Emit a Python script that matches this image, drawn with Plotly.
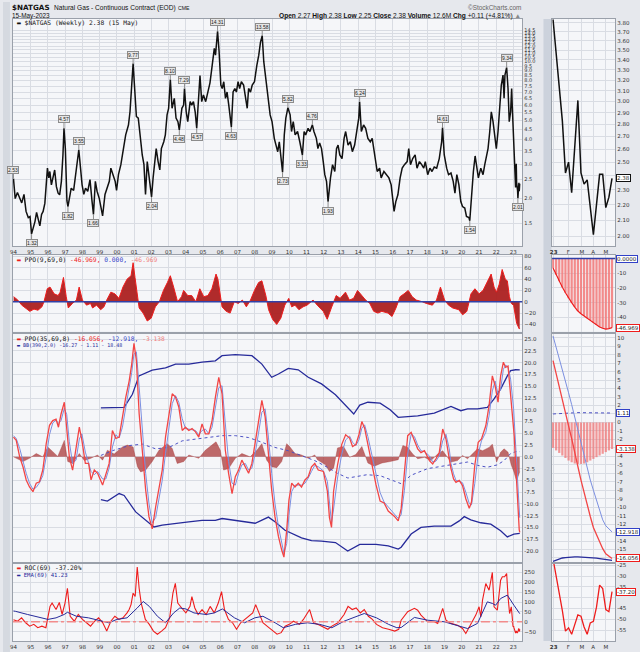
import math
import pandas as pd
import plotly.graph_objects as go

W, H = 640, 652

# ── $NATGAS weekly close, (decimal year, price) ──
PRICE = [
    (1994.00, 2.53), (1994.10, 2.00), (1994.23, 2.15), (1994.34, 2.05), (1994.48, 1.90), (1994.61, 2.10),
    (1994.73, 1.72), (1994.86, 1.60), (1994.96, 1.62), (1995.05, 1.32), (1995.15, 1.41), (1995.25, 1.53),
    (1995.34, 1.70), (1995.44, 1.53), (1995.53, 1.45), (1995.63, 1.66), (1995.72, 1.72), (1995.82, 1.89),
    (1995.92, 2.35), (1995.97, 2.86), (1996.05, 2.55), (1996.11, 2.75), (1996.20, 2.35), (1996.30, 2.55),
    (1996.39, 2.80), (1996.49, 2.30), (1996.59, 2.13), (1996.68, 2.09), (1996.78, 2.45), (1996.87, 3.34),
    (1996.93, 4.57), (1997.01, 3.60), (1997.10, 1.95), (1997.16, 1.82), (1997.26, 2.09), (1997.35, 2.26),
    (1997.49, 2.20), (1997.60, 2.65), (1997.74, 3.34), (1997.79, 3.55), (1997.89, 2.86), (1997.98, 2.35),
    (1998.08, 2.10), (1998.18, 2.26), (1998.31, 2.18), (1998.44, 2.50), (1998.56, 1.93), (1998.64, 1.66),
    (1998.75, 2.45), (1998.85, 2.18), (1998.98, 2.00), (1999.11, 1.70), (1999.17, 1.63), (1999.31, 2.10),
    (1999.46, 2.35), (1999.56, 2.45), (1999.65, 2.86), (1999.79, 2.65), (1999.90, 2.45), (1999.98, 2.20),
    (2000.09, 2.65), (2000.23, 2.98), (2000.36, 3.60), (2000.51, 4.23), (2000.67, 4.75), (2000.76, 5.55),
    (2000.86, 7.60), (2000.94, 9.77), (2001.03, 7.30), (2001.13, 5.25), (2001.24, 5.15), (2001.34, 4.23),
    (2001.47, 3.34), (2001.57, 2.98), (2001.66, 2.10), (2001.76, 3.09), (2001.85, 2.65), (2001.95, 2.26),
    (2002.01, 2.04), (2002.10, 2.55), (2002.20, 3.09), (2002.28, 3.60), (2002.39, 3.09), (2002.49, 2.80),
    (2002.58, 3.60), (2002.72, 3.90), (2002.81, 4.23), (2002.91, 5.35), (2003.00, 5.78), (2003.10, 8.10),
    (2003.20, 5.78), (2003.33, 6.50), (2003.43, 5.15), (2003.54, 4.94), (2003.62, 4.48), (2003.77, 5.78),
    (2003.87, 6.00), (2003.92, 7.29), (2004.02, 5.55), (2004.11, 4.94), (2004.25, 6.25), (2004.34, 6.00),
    (2004.44, 6.25), (2004.54, 5.55), (2004.63, 4.57), (2004.73, 6.76), (2004.82, 8.50), (2004.92, 6.25),
    (2005.02, 6.76), (2005.15, 6.25), (2005.26, 7.00), (2005.40, 7.80), (2005.53, 9.60), (2005.65, 11.70),
    (2005.72, 10.80), (2005.84, 14.31), (2005.93, 11.20), (2006.03, 7.60), (2006.11, 7.30), (2006.20, 7.90),
    (2006.30, 6.50), (2006.39, 7.00), (2006.49, 6.00), (2006.64, 4.63), (2006.74, 7.00), (2006.84, 7.30),
    (2006.93, 7.00), (2007.03, 7.90), (2007.12, 7.30), (2007.22, 7.90), (2007.35, 7.60), (2007.47, 6.50),
    (2007.56, 5.78), (2007.64, 7.30), (2007.75, 7.00), (2007.85, 7.60), (2007.98, 7.90), (2008.12, 9.60),
    (2008.23, 10.80), (2008.33, 12.60), (2008.43, 13.58), (2008.52, 10.00), (2008.66, 7.90), (2008.75, 6.50),
    (2008.89, 5.35), (2009.00, 4.94), (2009.13, 4.06), (2009.23, 3.75), (2009.33, 3.47), (2009.42, 3.90),
    (2009.52, 3.34), (2009.61, 2.73), (2009.71, 4.23), (2009.80, 5.15), (2009.92, 5.82), (2010.05, 5.35),
    (2010.13, 4.40), (2010.23, 4.94), (2010.34, 4.23), (2010.48, 4.40), (2010.61, 3.90), (2010.76, 3.33),
    (2010.86, 4.40), (2010.95, 4.23), (2011.09, 4.57), (2011.20, 4.40), (2011.34, 4.76), (2011.43, 4.40),
    (2011.57, 4.06), (2011.66, 3.60), (2011.76, 3.85), (2011.87, 3.60), (2011.97, 3.09), (2012.06, 2.65),
    (2012.16, 2.45), (2012.25, 1.93), (2012.39, 2.55), (2012.51, 2.98), (2012.64, 2.75), (2012.74, 3.60),
    (2012.83, 3.75), (2012.93, 3.34), (2013.06, 3.20), (2013.18, 4.06), (2013.27, 4.40), (2013.41, 3.75),
    (2013.54, 3.90), (2013.66, 3.47), (2013.79, 3.75), (2013.93, 4.40), (2014.03, 5.15), (2014.08, 6.24),
    (2014.18, 4.40), (2014.31, 4.75), (2014.43, 4.57), (2014.56, 4.06), (2014.70, 3.90), (2014.81, 4.06),
    (2014.91, 3.47), (2015.01, 2.98), (2015.10, 2.75), (2015.24, 2.86), (2015.33, 2.55), (2015.49, 2.75),
    (2015.62, 2.65), (2015.78, 2.55), (2015.91, 2.35), (2016.01, 2.00), (2016.08, 1.72), (2016.18, 1.93),
    (2016.30, 2.09), (2016.43, 2.55), (2016.55, 2.86), (2016.68, 2.98), (2016.84, 3.09), (2016.93, 3.60),
    (2017.03, 2.98), (2017.16, 3.20), (2017.30, 3.34), (2017.41, 2.86), (2017.55, 3.09), (2017.68, 2.98),
    (2017.80, 2.86), (2017.89, 3.09), (2018.03, 2.65), (2018.16, 2.86), (2018.28, 2.75), (2018.41, 2.90),
    (2018.55, 2.86), (2018.70, 3.20), (2018.84, 3.90), (2018.89, 4.61), (2018.99, 3.34), (2019.13, 2.86),
    (2019.24, 2.65), (2019.38, 2.70), (2019.51, 2.45), (2019.61, 2.13), (2019.72, 2.65), (2019.84, 2.35),
    (2019.95, 1.93), (2020.05, 1.82), (2020.18, 1.79), (2020.28, 1.62), (2020.42, 1.60), (2020.47, 1.54),
    (2020.59, 2.26), (2020.68, 2.75), (2020.78, 3.30), (2020.88, 2.86), (2020.97, 2.55), (2021.11, 2.86),
    (2021.24, 2.65), (2021.34, 2.98), (2021.44, 3.34), (2021.53, 3.60), (2021.63, 4.40), (2021.72, 5.55),
    (2021.82, 4.94), (2021.92, 4.06), (2022.01, 3.60), (2022.11, 4.40), (2022.22, 6.00), (2022.30, 7.60),
    (2022.40, 8.54), (2022.46, 6.50), (2022.51, 8.54), (2022.61, 9.34), (2022.69, 7.30), (2022.76, 4.94),
    (2022.84, 5.55), (2022.90, 7.30), (2022.94, 5.78), (2022.98, 4.50),
]

# 2023 weekly bars (zoomed side panel)
WEEKS = ["2023-01-06", "2023-01-13", "2023-01-20", "2023-01-27", "2023-02-03", "2023-02-10", "2023-02-17",
         "2023-02-24", "2023-03-03", "2023-03-10", "2023-03-17", "2023-03-24", "2023-03-31", "2023-04-07",
         "2023-04-14", "2023-04-21", "2023-04-28", "2023-05-05", "2023-05-12", "2023-05-15"]
WK_PRICE = [3.84, 3.47, 3.15, 2.83, 2.42, 2.50, 2.28, 2.62, 3.01, 2.42,
            2.34, 2.37, 2.20, 2.01, 2.20, 2.41, 2.41, 2.18, 2.25, 2.38]

# swing labels on the price line: (year, value, +1 above / -1 below)
PEAKS = [
    (1994.00, 2.53, 1), (1995.05, 1.32, -1), (1996.93, 4.57, 1), (1997.16, 1.82, -1), (1997.79, 3.55, 1),
    (1998.64, 1.66, -1), (2000.94, 9.77, 1), (2002.01, 2.04, -1), (2003.10, 8.10, 1), (2003.62, 4.48, -1),
    (2003.92, 7.29, 1), (2004.63, 4.57, -1), (2005.84, 14.31, 1), (2006.64, 4.63, -1), (2008.43, 13.58, 1),
    (2009.61, 2.73, -1), (2009.92, 5.82, 1), (2010.76, 3.33, -1), (2011.34, 4.76, 1), (2012.25, 1.93, -1),
    (2014.08, 6.24, 1), (2018.89, 4.61, 1), (2020.47, 1.54, -1), (2022.61, 9.34, 1), (2023.26, 2.01, -1),
]

# PPO(9,69,0)
PPO9 = [
    (1994.01, 9), (1994.25, 3), (1994.48, -6), (1994.72, -11), (1994.95, -17), (1995.19, -13), (1995.42, -15),
    (1995.65, -9), (1995.77, 0), (1995.96, 23), (1996.12, 26), (1996.36, 14), (1996.59, 11), (1996.71, 17),
    (1996.90, 43), (1997.06, 9), (1997.18, -11), (1997.42, -3), (1997.65, 3), (1997.81, 26), (1998.00, 3),
    (1998.24, -6), (1998.47, -3), (1998.59, -11), (1998.82, -6), (1999.06, -14), (1999.25, -9), (1999.41, 3),
    (1999.65, 17), (1999.88, 14), (2000.12, 6), (2000.35, 26), (2000.59, 40), (2000.82, 46), (2000.94, 69),
    (2001.05, 43), (2001.29, -11), (2001.52, -20), (2001.76, -34), (2001.99, -29), (2002.23, -9), (2002.46, 0),
    (2002.70, 20), (2002.93, 34), (2003.10, 46), (2003.29, 26), (2003.52, 0), (2003.75, 9), (2003.87, 20),
    (2004.11, 11), (2004.34, 11), (2004.58, 0), (2004.81, 23), (2005.04, 9), (2005.28, 11), (2005.51, 23),
    (2005.75, 49), (2005.86, 40), (2006.10, -9), (2006.34, -17), (2006.57, -20), (2006.81, 0), (2007.04, -3),
    (2007.28, 3), (2007.51, -9), (2007.75, 3), (2007.98, 20), (2008.22, 34), (2008.41, 37), (2008.64, 11),
    (2008.80, -14), (2009.03, -31), (2009.27, -40), (2009.51, -29), (2009.74, -6), (2009.97, 6), (2010.14, -9),
    (2010.33, -6), (2010.56, -14), (2010.80, -9), (2011.03, -6), (2011.38, 3), (2011.62, -6), (2011.97, -17),
    (2012.20, -31), (2012.44, -11), (2012.72, 11), (2012.95, 6), (2013.26, 17), (2013.49, 3), (2013.73, 6),
    (2013.96, 20), (2014.20, 11), (2014.43, 3), (2014.67, -3), (2014.90, -17), (2015.14, -20), (2015.37, -17),
    (2015.72, -20), (2015.96, -26), (2016.19, -11), (2016.43, 9), (2016.66, 14), (2016.90, 20), (2017.13, 9),
    (2017.37, 3), (2017.72, 0), (2017.95, -3), (2018.30, -6), (2018.54, 3), (2018.77, 26), (2019.01, 3),
    (2019.24, -6), (2019.48, -11), (2019.83, -14), (2020.06, -23), (2020.30, -17), (2020.54, 14), (2020.77, 23),
    (2021.01, 14), (2021.24, 20), (2021.48, 34), (2021.71, 49), (2021.88, 26), (2022.02, 17), (2022.18, 31),
    (2022.35, 57), (2022.53, 40), (2022.65, 37), (2022.77, 9), (2022.88, -3),
]
WK_PPO9 = [-6.4, -11, -15.5, -19.5, -23.3, -27, -30, -33, -35.7, -37.5,
           -39, -40.5, -41.7, -43.5, -45.1, -46.5, -47.4, -48, -47.6, -46.969]

# PPO(35,69,8): line, signal, histogram
PPO35 = [
    (1994.00, 4.2), (1994.16, 3.5), (1994.36, 0), (1994.55, -2.1), (1994.74, -4.9), (1994.93, -6.4),
    (1995.13, -7.4), (1995.32, -5.6), (1995.51, -5.3), (1995.70, -2.8), (1995.90, 2.8), (1996.09, 6.7),
    (1996.28, 7.7), (1996.47, 8.0), (1996.61, 6.3), (1996.76, 9.1), (1996.95, 11.6), (1997.09, 6.3),
    (1997.24, 0), (1997.43, -2.8), (1997.63, 1.4), (1997.82, 6.3), (1997.97, 3.5), (1998.17, -1.4),
    (1998.36, -1.4), (1998.50, -4.9), (1998.69, -2.8), (1998.88, -3.5), (1999.17, -6.0), (1999.36, -3.5),
    (1999.55, -1.4), (1999.74, 5.6), (1999.94, 3.9), (2000.13, 4.2), (2000.32, 8.5), (2000.51, 12.6),
    (2000.71, 16.1), (2000.86, 19.7), (2000.99, 24.1), (2001.13, 20.5), (2001.29, 9.2), (2001.48, 0),
    (2001.67, -7.1), (2001.86, -12.7), (2002.05, -15.3), (2002.25, -10.6), (2002.44, -7.1), (2002.63, -2.8),
    (2002.82, 4.2), (2003.02, 9.2), (2003.21, 13.4), (2003.40, 12.7), (2003.59, 10.6), (2003.79, 5.6),
    (2003.98, 6.3), (2004.17, 5.6), (2004.36, 6.0), (2004.56, 5.3), (2004.75, 4.2), (2004.94, 7.0),
    (2005.13, 4.9), (2005.33, 4.9), (2005.52, 7.7), (2005.71, 12.6), (2005.91, 16.9), (2006.10, 13.4),
    (2006.29, 1.4), (2006.48, -3.5), (2006.68, -7.8), (2006.87, -4.2), (2007.06, -2.8), (2007.25, -0.7),
    (2007.45, -2.1), (2007.64, -3.5), (2007.83, -1.4), (2008.02, 2.8), (2008.21, 7.0), (2008.41, 12.0),
    (2008.60, 8.5), (2008.79, 0), (2008.98, -7.1), (2009.17, -12.7), (2009.37, -16.9), (2009.56, -19.8),
    (2009.69, -21.3), (2009.85, -15.6), (2009.98, -9.2), (2010.14, -5.6), (2010.33, -6.4), (2010.52, -5.6),
    (2010.71, -6.4), (2010.91, -4.9), (2011.10, -4.2), (2011.29, -2.1), (2011.48, -1.4), (2011.68, -2.8),
    (2011.98, -3.1), (2012.21, -7.3), (2012.33, -12.9), (2012.45, -15.0), (2012.57, -7.3), (2012.80, -1.7),
    (2013.04, 2.6), (2013.27, 4.7), (2013.50, 4.0), (2013.67, 2.2), (2013.86, 2.6), (2014.04, 4.7),
    (2014.21, 7.5), (2014.37, 6.1), (2014.56, 2.6), (2014.80, -1.7), (2015.03, -5.9), (2015.27, -9.4),
    (2015.50, -9.8), (2015.74, -11.5), (2016.09, -12.6), (2016.32, -13.6), (2016.49, -11.0), (2016.68, -3.3),
    (2016.87, 4.5), (2017.07, 5.2), (2017.26, 3.4), (2017.45, 1.7), (2017.64, 0.9), (2017.84, 1.3),
    (2018.13, -0.8), (2018.32, -1.5), (2018.51, -0.4), (2018.70, 0.9), (2018.90, 5.9), (2019.09, 3.8),
    (2019.28, -0.4), (2019.38, -2.5), (2019.53, -4.7), (2019.67, -5.4), (2019.86, -5.0), (2020.05, -6.1),
    (2020.24, -8.9), (2020.44, -10.9), (2020.57, -9.6), (2020.76, -1.8), (2020.96, 3.1), (2021.15, 3.8),
    (2021.40, 6.6), (2021.59, 10.9), (2021.78, 17.2), (2021.94, 15.1), (2022.11, 11.6), (2022.26, 17.2),
    (2022.42, 20.1), (2022.55, 19.0), (2022.69, 19.3), (2022.84, 13.7),
]
PPO35_SIG = [
    (1994.00, 4.5), (1994.16, 3.9), (1994.36, 1.8), (1994.55, -1.0), (1994.74, -3.5), (1994.93, -5.6),
    (1995.13, -6.9), (1995.32, -6.5), (1995.51, -5.5), (1995.70, -4.0), (1995.90, 0.0), (1996.09, 4.7),
    (1996.28, 7.2), (1996.47, 7.8), (1996.61, 7.1), (1996.76, 7.7), (1996.95, 10.3), (1997.09, 9.0),
    (1997.24, 3.2), (1997.43, -1.4), (1997.63, -0.7), (1997.82, 3.8), (1997.97, 4.9), (1998.17, 1.0),
    (1998.36, -1.4), (1998.50, -3.1), (1998.69, -3.8), (1998.88, -3.1), (1999.17, -4.7), (1999.36, -4.7),
    (1999.55, -2.4), (1999.74, 2.1), (1999.94, 4.7), (2000.13, 4.0), (2000.32, 6.3), (2000.51, 10.5),
    (2000.71, 14.3), (2000.86, 17.9), (2000.99, 21.8), (2001.13, 22.3), (2001.29, 14.9), (2001.48, 4.6),
    (2001.67, -3.5), (2001.86, -9.9), (2002.05, -14.0), (2002.25, -12.9), (2002.44, -8.8), (2002.63, -5.0),
    (2002.82, 0.7), (2003.02, 6.7), (2003.21, 11.3), (2003.40, 13.0), (2003.59, 11.6), (2003.79, 8.1),
    (2003.98, 6.0), (2004.17, 5.9), (2004.36, 5.8), (2004.56, 5.6), (2004.75, 4.7), (2004.94, 5.6),
    (2005.13, 5.9), (2005.33, 4.9), (2005.52, 6.3), (2005.71, 10.1), (2005.91, 14.7), (2006.10, 15.1),
    (2006.29, 7.4), (2006.48, -1.0), (2006.68, -5.6), (2006.87, -6.0), (2007.06, -3.5), (2007.25, -1.7),
    (2007.45, -1.4), (2007.64, -2.8), (2007.83, -2.4), (2008.02, 0.7), (2008.21, 4.9), (2008.41, 9.5),
    (2008.60, 10.2), (2008.79, 4.2), (2008.98, -3.5), (2009.17, -9.9), (2009.37, -14.8), (2009.56, -18.3),
    (2009.69, -20.5), (2009.85, -18.4), (2009.98, -12.4), (2010.14, -7.4), (2010.33, -6.0), (2010.52, -6.0),
    (2010.71, -6.0), (2010.91, -5.6), (2011.10, -4.5), (2011.29, -3.1), (2011.48, -1.8), (2011.68, -2.1),
    (2011.98, -3.0), (2012.21, -5.2), (2012.33, -10.1), (2012.45, -14.0), (2012.57, -11.1), (2012.80, -4.5),
    (2013.04, 0.5), (2013.27, 3.6), (2013.50, 4.4), (2013.67, 3.1), (2013.86, 2.4), (2014.04, 3.6),
    (2014.21, 6.1), (2014.37, 6.8), (2014.56, 4.3), (2014.80, 0.4), (2015.03, -3.8), (2015.27, -7.6),
    (2015.50, -9.6), (2015.74, -10.6), (2016.09, -12.0), (2016.32, -13.1), (2016.49, -12.3), (2016.68, -7.1),
    (2016.87, 0.6), (2017.07, 4.8), (2017.26, 4.3), (2017.45, 2.5), (2017.64, 1.3), (2017.84, 1.1),
    (2018.13, 0.2), (2018.32, -1.1), (2018.51, -0.9), (2018.70, 0.2), (2018.90, 3.4), (2019.09, 4.8),
    (2019.28, 1.7), (2019.38, -1.4), (2019.53, -3.6), (2019.67, -5.0), (2019.86, -5.2), (2020.05, -5.5),
    (2020.24, -7.5), (2020.44, -9.9), (2020.57, -10.2), (2020.76, -5.7), (2020.96, 0.6), (2021.15, 3.4),
    (2021.40, 5.2), (2021.59, 8.7), (2021.78, 14.0), (2021.94, 16.1), (2022.11, 13.3), (2022.26, 14.4),
    (2022.42, 18.6), (2022.55, 19.5), (2022.69, 19.1), (2022.84, 16.5),
]
PPO35_HIST = [
    (1994.00, 0), (1994.16, -0.3), (1994.55, -1.0), (1994.93, -0.3), (1995.32, 0.7), (1995.70, 0),
    (1995.99, 2.1), (1996.28, 1.1), (1996.57, 0.1), (1996.95, 3.5), (1997.15, -1.0), (1997.43, -1.4),
    (1997.82, 0.7), (1998.11, -0.8), (1998.49, -0.3), (1998.88, 0.4), (1999.17, -0.7), (1999.45, 1.4),
    (1999.84, 0.6), (2000.32, 2.1), (2000.61, 2.5), (2000.94, 2.1), (2001.19, -2.1), (2001.38, -3.2),
    (2001.67, -2.8), (2002.05, -1.0), (2002.44, 1.4), (2002.92, 2.8), (2003.21, 1.8), (2003.50, -1.4),
    (2003.88, -1.0), (2004.17, 0.4), (2004.75, -0.3), (2005.13, 1.4), (2005.75, 3.2), (2006.00, 1.4),
    (2006.19, -2.8), (2006.48, -2.5), (2006.87, -0.3), (2007.25, 0.7), (2007.73, 0), (2008.12, 1.4),
    (2008.41, 2.8), (2008.69, -0.7), (2008.98, -2.1), (2009.27, -2.3), (2009.56, -1.0), (2009.85, 2.8),
    (2010.04, 2.1), (2010.33, 0.7), (2010.71, 0.4), (2011.10, -0.3), (2011.48, 0.4), (2011.63, -0.6),
    (2012.10, -1.7), (2012.33, -3.1), (2012.57, -2.4), (2012.80, 1.9), (2013.15, 2.2), (2013.50, -0.1),
    (2013.86, 0.5), (2014.21, 2.2), (2014.56, -1.3), (2014.92, -2.0), (2015.38, -1.3), (2015.85, -1.0),
    (2016.32, -0.6), (2016.59, 2.4), (2016.87, 2.0), (2017.16, 0.6), (2017.45, -0.4), (2017.84, -0.1),
    (2018.22, -0.8), (2018.61, 0.6), (2018.90, 1.3), (2019.18, -0.1), (2019.38, -1.1), (2019.76, -0.8),
    (2020.05, 0.3), (2020.34, -0.4), (2020.63, 0.6), (2020.92, 1.7), (2021.21, 1.3), (2021.59, 2.0),
    (2021.78, 2.7), (2022.03, -1.1), (2022.26, 1.0), (2022.46, 1.7), (2022.69, 1.0), (2022.88, -1.8),
]
WK_PPO35 = [7.3, 5.7, 4.3, 2.7, 1.2, -0.4, -1.9, -3.4, -5.2, -6.8,
            -8.3, -9.8, -11.1, -12.4, -13.3, -14.2, -14.9, -15.5, -15.8, -16.056]
WK_SIG35 = [10.2, 8.9, 7.7, 6.3, 5.0, 3.5, 2.1, 0.6, -0.9, -2.4,
            -3.9, -5.5, -6.8, -8.0, -9.2, -10.5, -11.5, -12.2, -12.6, -12.918]
WK_HIST35 = [-3.0, -3.3, -3.6, -3.9, -4.2, -4.5, -4.7, -4.85, -4.9, -4.9,
             -4.85, -4.7, -4.5, -4.3, -4.1, -3.9, -3.7, -3.5, -3.3, -3.138]

# BB(390,2.0) on the PPO
BB_UP = [
    (1999.07, 10.4), (2000.42, 10.5), (2000.90, 13.3), (2001.28, 17.2), (2002.05, 18.4), (2002.82, 18.9),
    (2003.40, 19.7), (2004.17, 19.7), (2004.94, 20.1), (2005.71, 20.4), (2006.10, 21.5), (2006.87, 21.7),
    (2007.83, 21.5), (2008.41, 19.7), (2008.98, 16.9), (2009.37, 17.6), (2009.94, 18.8), (2010.52, 18.5),
    (2011.10, 16.9), (2011.87, 15.5), (2012.68, 13.2), (2013.39, 10.3), (2013.74, 9.1), (2014.09, 11.0),
    (2014.56, 11.6), (2015.27, 11.4), (2015.85, 10.0), (2016.32, 8.4), (2017.45, 8.7), (2018.41, 9.3),
    (2019.38, 10.7), (2019.95, 9.8), (2020.34, 10.2), (2020.92, 10.2), (2021.49, 10.5), (2021.88, 12.3),
    (2022.26, 14.4), (2022.65, 17.2), (2022.84, 18.3), (2023.13, 18.5), (2023.37, 18.48),
]
BB_MID = [
    (1999.07, 0.3), (1999.74, 1.3), (2000.71, 2.4), (2001.48, 2.7), (2002.25, 1.7), (2003.02, 2.0),
    (2003.79, 3.4), (2004.56, 3.8), (2005.33, 4.1), (2006.10, 4.5), (2006.87, 4.5), (2007.64, 4.1),
    (2008.41, 3.1), (2009.17, 2.0), (2009.94, 1.3), (2010.71, 0.3), (2011.48, -0.8), (2012.20, -2.2),
    (2012.80, -3.5), (2013.40, -4.5), (2013.90, -4.2), (2014.50, -3.8), (2015.27, -4.0), (2015.90, -4.8),
    (2016.49, -5.7), (2017.07, -3.9), (2018.03, -2.5), (2019.18, -1.8), (2020.34, -1.1), (2020.92, -1.8),
    (2021.49, -2.2), (2022.07, -1.7), (2022.46, -0.8), (2022.84, 0.7), (2023.13, 1.1), (2023.37, 1.11),
]
BB_LO = [
    (1999.07, -9.1), (1999.45, -9.4), (2000.13, -7.8), (2000.42, -8.2), (2001.09, -11.7), (2001.67, -13.5),
    (2002.15, -14.9), (2002.63, -14.5), (2003.40, -14.1), (2004.17, -13.8), (2004.94, -13.5), (2005.71, -13.5),
    (2006.10, -13.1), (2006.87, -13.5), (2008.02, -14.1), (2008.79, -12.8), (2009.17, -13.8), (2009.75, -15.6),
    (2010.14, -16.3), (2010.71, -17.2), (2011.29, -17.8), (2011.87, -17.9), (2012.68, -18.2), (2013.15, -19.3),
    (2013.39, -20.0), (2014.09, -18.6), (2015.03, -18.6), (2015.74, -18.9), (2016.32, -19.6), (2016.49, -19.2),
    (2017.07, -16.4), (2017.64, -15.0), (2018.41, -14.7), (2019.38, -14.7), (2019.86, -13.6), (2020.15, -12.7),
    (2020.53, -13.4), (2021.11, -14.0), (2021.69, -14.3), (2022.26, -15.7), (2022.65, -17.0), (2023.03, -16.4),
    (2023.37, -16.27),
]
WK_BB_MID = [1.0, 1.03, 1.06, 1.09, 1.12, 1.14, 1.15, 1.16, 1.16, 1.15,
             1.15, 1.14, 1.13, 1.12, 1.12, 1.11, 1.11, 1.11, 1.11, 1.11]
WK_BB_LO = [-16.4, -16.25, -16.1, -16.0, -15.95, -15.9, -15.88, -15.87, -15.87, -15.88,
            -15.9, -15.92, -15.95, -15.98, -16.02, -16.07, -16.12, -16.17, -16.22, -16.27]

# ROC(69) and its EMA(69)
ROC = [
    (1994.00, 10), (1994.24, 3), (1994.47, 20), (1994.71, -5), (1994.94, -22), (1995.18, -13), (1995.41, -30),
    (1995.65, -22), (1995.88, -30), (1996.12, 78), (1996.24, 95), (1996.47, 62), (1996.66, 98), (1996.82, 37),
    (1996.99, 95), (1997.13, 170), (1997.29, 28), (1997.53, 3), (1997.76, 37), (1998.00, 12), (1998.24, -5),
    (1998.47, -22), (1998.71, 3), (1998.94, 20), (1999.18, -5), (1999.41, -47), (1999.65, 3), (1999.88, 28),
    (2000.12, 12), (2000.35, 20), (2000.59, 45), (2000.71, 62), (2000.82, 87), (2000.94, 145), (2001.06, 128),
    (2001.18, 278), (2001.29, 170), (2001.41, 95), (2001.65, 12), (2001.88, -13), (2002.12, -47), (2002.35, -63),
    (2002.59, -47), (2002.82, -30), (2003.06, 20), (2003.25, 145), (2003.39, 195), (2003.53, 95), (2003.76, 70),
    (2004.00, 45), (2004.24, 78), (2004.35, 128), (2004.52, 70), (2004.71, 37), (2004.94, 62), (2005.18, 37),
    (2005.41, 78), (2005.65, 45), (2005.88, 95), (2006.07, 153), (2006.24, 62), (2006.47, 12), (2006.71, -5),
    (2006.94, -38), (2007.18, -5), (2007.41, 12), (2007.65, 28), (2007.88, 45), (2008.05, 87), (2008.24, 45),
    (2008.47, -5), (2008.71, -22), (2009.06, -47), (2009.29, -63), (2009.53, -55), (2009.76, -22), (2010.00, -13),
    (2010.24, 3), (2010.59, -13), (2010.82, 12), (2011.18, 62), (2011.41, -5), (2011.65, -13), (2012.00, -30),
    (2012.24, -38), (2012.47, -22), (2012.82, -5), (2013.18, 37), (2013.41, 78), (2013.65, 62), (2013.88, 70),
    (2014.12, 45), (2014.35, 62), (2014.59, 28), (2014.82, 12), (2015.06, -13), (2015.41, -30), (2015.76, -38),
    (2016.12, -47), (2016.35, -38), (2016.49, 8), (2016.87, 51), (2017.26, 68), (2017.45, 59), (2017.64, 34),
    (2018.03, 0), (2018.41, 0), (2018.61, -8), (2018.90, 68), (2019.09, 8), (2019.38, -8), (2019.76, -17),
    (2020.05, -34), (2020.24, -59), (2020.44, -25), (2020.63, 0), (2020.82, 34), (2021.01, 76), (2021.11, 25),
    (2021.21, 110), (2021.40, 194), (2021.59, 160), (2021.78, 250), (2021.88, 76), (2022.07, 59), (2022.26, 211),
    (2022.36, 228), (2022.49, 228), (2022.61, 245), (2022.69, 127), (2022.78, 42), (2022.88, 76), (2022.98, -25),
]
ROC_EMA = [
    (1994.00, 55), (1994.12, 53), (1994.82, 37), (1995.53, 20), (1996.00, 12), (1996.47, 20), (1996.94, 37),
    (1997.13, 48), (1997.65, 28), (1998.35, 20), (1999.06, 3), (1999.53, -5), (2000.00, 12), (2000.59, 20),
    (2001.18, 70), (2001.53, 103), (2001.88, 78), (2002.35, 28), (2002.82, -5), (2003.29, 45), (2003.65, 70),
    (2004.00, 65), (2004.47, 45), (2005.18, 37), (2005.65, 45), (2006.12, 65), (2006.82, 20), (2007.41, -5),
    (2008.00, 20), (2008.47, 28), (2009.18, -5), (2009.65, -30), (2010.35, -13), (2011.06, -5), (2011.76, -13),
    (2012.47, -30), (2013.18, 3), (2013.88, 28), (2014.35, 42), (2015.06, 20), (2015.76, -13), (2016.24, -30),
    (2016.49, -29), (2017.26, 22), (2018.03, 8), (2018.99, 0), (2019.95, -22), (2020.34, -34), (2020.92, -8),
    (2021.49, 101), (2021.78, 93), (2021.97, 84), (2022.26, 118), (2022.65, 135), (2023.03, 84), (2023.37, 41.2),
]
WK_ROC = [-22, -30, -37, -46, -55.5, -54, -57, -53, -48, -48.6,
          -53.6, -57, -51.7, -51, -44.4, -34.2, -35.8, -45.5, -46.5, -37.2]

YEARS = list(range(1994, 2024))
YEAR_LABELS = [f"{y % 100:02d}" for y in YEARS]
SIDE_TICK_POS = [0.2, 4.9, 9.3, 12.9, 17.0]
SIDE_TICK_TEXT = ["<b>23</b>", "F", "M", "A", "M"]

# ── styling ──────────────────────────────────────────────────────────────────
PAPER = "#e6e8ed"
PANEL = "#f5f6f9"
GRID = "#d9dce3"
FRAME = "#9aa0aa"
RED = "#ee1c1c"
PPO_RED = "#f24545"
SIG_BLUE = "#7b8fe0"
NAVY = "#262a9a"
TICKFONT = dict(family="DejaVu Sans", size=5.5, color="#333")


def to_year(d):
    ts = pd.Timestamp(d)
    return ts.year + (ts.dayofyear - 1) / 365.25


def tx(pairs):
    return [p[0] for p in pairs]


def ty(pairs):
    return [p[1] for p in pairs]


wk_year = [to_year(d) for d in WEEKS]
wk_idx = list(range(len(WEEKS)))


def xdom(a, b):
    return [a / W, b / W]


def ydom(top, bottom):
    return [1 - bottom / H, 1 - top / H]


MAIN_X = xdom(10, 521.7)
SIDE_X = xdom(551.7, 615)
ROW = {1: ydom(17, 245), 2: ydom(253.3, 330.7), 3: ydom(333, 561.7), 4: ydom(563.5, 641)}
MAIN_RANGE = [1993.97, 2023.515]
SIDE_RANGE = [-0.3, 20.0]


def ids(n):
    return ("x", "y") if n == 1 else (f"x{n}", f"y{n}")


fig = go.Figure()


def line(n, x, y, color, width=1.0, dash=None, **kw):
    xa, ya = ids(n)
    fig.add_trace(go.Scatter(x=x, y=y, mode="lines", xaxis=xa, yaxis=ya, hoverinfo="skip",
                             line=dict(color=color, width=width, dash=dash), showlegend=False, **kw))


def bars(n, x, y, color):
    xa, ya = ids(n)
    fig.add_trace(go.Bar(x=x, y=y, xaxis=xa, yaxis=ya, width=0.72, hoverinfo="skip",
                         marker=dict(color=color, line=dict(width=0)), showlegend=False))


# price
line(1, tx(PRICE) + wk_year, ty(PRICE) + WK_PRICE, "#111", 1.5)
line(2, wk_idx, WK_PRICE, "#111", 1.5)

# PPO(9,69,0)
line(3, tx(PPO9) + wk_year, ty(PPO9) + WK_PPO9, RED, 1.0, fill="tozeroy", fillcolor="rgba(172,32,32,0.95)")
bars(4, wk_idx, WK_PPO9, "rgba(242,120,120,0.85)")
line(4, wk_idx, WK_PPO9, RED, 1.2)

# PPO(35,69,8) + BB
line(5, tx(PPO35_HIST) + wk_year, ty(PPO35_HIST) + WK_HIST35, "rgba(165,45,45,0.7)", 0.5,
     fill="tozeroy", fillcolor="rgba(165,45,45,0.7)")
line(5, tx(BB_UP), ty(BB_UP), NAVY, 1.3)
line(5, tx(BB_LO), ty(BB_LO), NAVY, 1.3)
line(5, tx(BB_MID), ty(BB_MID), "#4b50c4", 1.0, dash="dot")
line(5, tx(PPO35_SIG) + wk_year, ty(PPO35_SIG) + WK_SIG35, SIG_BLUE, 1.0)
line(5, tx(PPO35) + wk_year, ty(PPO35) + WK_PPO35, PPO_RED, 1.3)
bars(6, wk_idx, WK_HIST35, "rgba(240,110,110,0.7)")
line(6, wk_idx, WK_BB_MID, "#4b50c4", 1.0, dash="dot")
line(6, wk_idx, WK_BB_LO, NAVY, 1.3)
line(6, wk_idx, WK_SIG35, SIG_BLUE, 1.0)
line(6, wk_idx, WK_PPO35, PPO_RED, 1.3)

# ROC(69) + EMA
line(7, tx(ROC) + wk_year, ty(ROC) + WK_ROC, RED, 1.1)
line(7, tx(ROC_EMA), ty(ROC_EMA), NAVY, 1.0)
line(8, wk_idx, WK_ROC, RED, 1.3)


def xaxis(n, main, labels):
    _, ya = ids(n)
    d = dict(domain=MAIN_X if main else SIDE_X, anchor=ya, showgrid=True, gridcolor=GRID, gridwidth=1,
             zeroline=False, showline=True, mirror=True, linecolor=FRAME, linewidth=1, ticks="",
             tickfont=TICKFONT, showticklabels=labels, fixedrange=True)
    if main:
        d.update(range=MAIN_RANGE, tickvals=YEARS, ticktext=YEAR_LABELS)
    else:
        d.update(range=SIDE_RANGE, tickvals=SIDE_TICK_POS, ticktext=SIDE_TICK_TEXT)
    return d


def yaxis(n, row, rng, vals, text, log=False, size=5.5):
    xa, _ = ids(n)
    return dict(domain=ROW[row], anchor=xa, range=rng, type="log" if log else "linear", side="right",
                tickvals=vals, ticktext=text, showgrid=True, gridcolor=GRID, gridwidth=1, zeroline=False,
                showline=True, mirror=True, linecolor=FRAME, linewidth=1, ticks="",
                tickfont=dict(TICKFONT, size=size), fixedrange=True)


def labels(vals, fmt, hidden=()):
    # tick labels that sit under a value tag are left blank (the gridline stays)
    return ["" if v in hidden else fmt.format(v) for v in vals]


price_ticks = [1.5 + 0.5 * k for k in range(27)]
side_price_ticks = [round(2.0 + 0.1 * k, 2) for k in range(19)]
ppo35_ticks = [-20 + 2.5 * k for k in range(19)]
side_ppo9_ticks = [-50, -40, -30, -20, -10]
side_ppo35_ticks = list(range(-16, 11))
side_roc_ticks = [-25, -30, -35, -40, -45, -50, -55]

layout_axes = {
    "xaxis": xaxis(1, True, True),
    "yaxis": yaxis(1, 1, [math.log10(1.1417), math.log10(16.53)], price_ticks,
                   labels(price_ticks, "{:.1f}"), log=True, size=5),
    "xaxis2": xaxis(2, False, True),
    "yaxis2": yaxis(2, 1, [math.log10(1.941), math.log10(3.846)], side_price_ticks,
                    labels(side_price_ticks, "{:.2f}", hidden=(2.4,)), log=True),
    "xaxis3": xaxis(3, True, False),
    "yaxis3": yaxis(3, 2, [-52.9, 83.5], [-40, -20, 0, 20, 40, 60, 80], None),
    "xaxis4": xaxis(4, False, False),
    "yaxis4": yaxis(4, 2, [-49.7, 2.7], side_ppo9_ticks, labels(side_ppo9_ticks, "{}", hidden=(-50,))),
    "xaxis5": xaxis(5, True, False),
    "yaxis5": yaxis(5, 3, [-22.33, 26.1], ppo35_ticks, labels(ppo35_ticks, "{:.1f}")),
    "xaxis6": xaxis(6, False, False),
    "yaxis6": yaxis(6, 3, [-16.47, 10.44], side_ppo35_ticks,
                    labels(side_ppo35_ticks, "{}", hidden=(1, -3, -13, -16))),
    "xaxis7": xaxis(7, True, True),
    "yaxis7": yaxis(7, 4, [-97.5, 294], [-50, 0, 50, 100, 150, 200, 250], None),
    "xaxis8": xaxis(8, False, True),
    "yaxis8": yaxis(8, 4, [-60.1, -24.3], side_roc_ticks, labels(side_roc_ticks, "{}", hidden=(-40,))),
}

shapes = [
    dict(type="rect", xref="paper", yref="paper", x0=0, x1=7 / W, y0=0, y1=1,
         fillcolor="#d5d9e0", line=dict(width=0), layer="below"),
    dict(type="rect", xref="paper", yref="paper", x0=543 / W, x1=551 / W, y0=1 - 641 / H, y1=1 - 17 / H,
         fillcolor="#ccd2dc", line=dict(width=0), layer="below"),
    dict(type="line", xref="x3 domain", x0=0, x1=1, yref="y3", y0=0, y1=0, line=dict(color="#3140a8", width=1.5)),
    dict(type="line", xref="x4 domain", x0=0, x1=1, yref="y4", y0=0, y1=0, line=dict(color="#3140a8", width=1.5)),
    dict(type="line", xref="x7 domain", x0=0, x1=1, yref="y7", y0=0, y1=0,
         line=dict(color="#f28c8c", width=1.5, dash="dashdot")),
]

annotations = []


def note(x, y, text, size=6.5, family="Liberation Sans", color="#111", anchor="left", **kw):
    annotations.append(dict(x=x / W, y=1 - y / H, xref="paper", yref="paper", text=text, showarrow=False,
                            xanchor=anchor, yanchor="middle", font=dict(family=family, size=size, color=color), **kw))


# header
note(7, 6, "<b>$NATGAS</b>", size=7.2, family="DejaVu Sans")
note(49, 6.5, "Natural Gas - Continuous Contract (EOD)", size=6.6)
note(174, 6.5, "CME", size=5.2)
note(7, 14, "15-May-2023", size=6.4)
note(522, 6, "©StockCharts.com", size=6.4, color="#666", anchor="right")
note(522, 14, "<b>Open</b> 2.27 <b>High</b> 2.38 <b>Low</b> 2.25 <b>Close</b> 2.38 <b>Volume</b> 12.6M "
              "<b>Chg</b> +0.11 (+4.81%) <span style='color:#888'>▲</span>", size=6.6, anchor="right")

# panel legends
MONO = "DejaVu Sans Mono"
note(12, 21, "<span style='color:#111'>▬</span> $NATGAS (Weekly) 2.38 (15 May)", size=6.3, family=MONO)
note(12, 258, f"<span style='color:{RED}'>▬</span> PPO(9,69,0) <span style='color:{RED}'>-46.969,</span> "
              "<span style='color:#3140c8'>0.000,</span> <span style='color:#f08080'>-46.969</span>",
     size=6.3, family=MONO)
note(12, 337.5, f"<span style='color:{RED}'>▬</span> PPO(35,69,8) <span style='color:{RED}'>-16.056,</span> "
                "<span style='color:#3140c8'>-12.918,</span> <span style='color:#f08080'>-3.138</span>",
     size=6.3, family=MONO)
note(12, 344.5, f"<span style='color:{NAVY}'>▬ BB(390,2.0) -16.27 - 1.11 - 18.48</span>", size=5, family=MONO)
note(12, 567.5, f"<span style='color:{RED}'>▬</span> ROC(69) -37.20%", size=6.3, family=MONO)
note(12, 574.5, f"<span style='color:{NAVY}'>▬ EMA(69) 41.23</span>", size=5.6, family=MONO)

# value tags on the side axes
for text, ref, val, col in [
    ("2.38", "y2", math.log10(2.38), "#111"),
    ("0.0000", "y4", 0, "#3140c8"),
    ("-46.969", "y4", -46.969, RED),
    ("1.11", "y6", 1.11, "#3140c8"),
    ("-3.138", "y6", -3.138, RED),
    ("-12.918", "y6", -12.918, "#3140c8"),
    ("-16.056", "y6", -16.056, RED),
    ("-37.20", "y8", -37.20, RED),
]:
    annotations.append(dict(x=615.5 / W, xref="paper", y=val, yref=ref, text=text, showarrow=False,
                            xanchor="left", yanchor="middle", bgcolor="#ffffff", bordercolor=col,
                            borderwidth=1, borderpad=0, font=dict(family="DejaVu Sans", size=5.5, color="#222")))

# swing labels on price
for t, v, d in PEAKS:
    annotations.append(dict(x=t, y=math.log10(v), xref="x", yref="y", text=f"{v:.2f}", showarrow=True,
                            arrowhead=0, arrowwidth=1, arrowcolor="#8c8c8c", ax=0, ay=-9 * d, standoff=0,
                            bgcolor="#e6e6e6", bordercolor="#8c8c8c", borderwidth=1, borderpad=0,
                            font=dict(family="Liberation Sans", size=5, color="#222")))

fig.update_layout(
    width=W, height=H, margin=dict(l=0, r=0, t=0, b=0),
    paper_bgcolor=PAPER, plot_bgcolor=PANEL, showlegend=False,
    bargap=0.2, barmode="overlay",
    shapes=shapes, annotations=annotations,
    **layout_axes,
)

# the page body has a default 8px margin; drop it so the chart sits flush in the window
fig.write_html("out.html", config={"displayModeBar": False},
               post_script="document.body.style.margin='0';document.body.style.overflow='hidden';")
